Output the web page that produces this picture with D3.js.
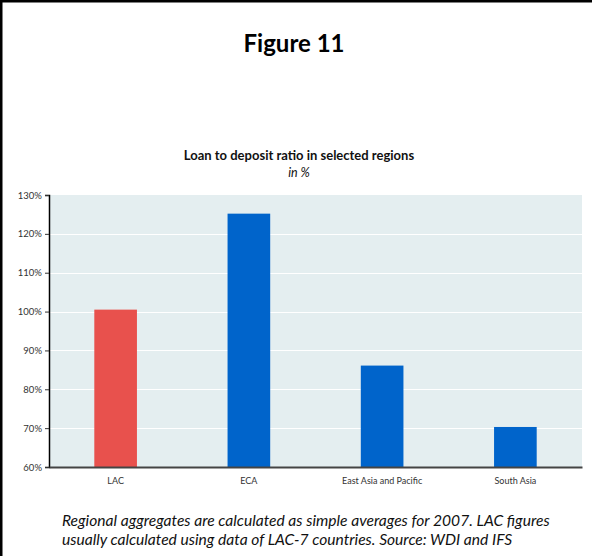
<!DOCTYPE html>
<html>
<head>
<meta charset="utf-8">
<script src="https://cdn.jsdelivr.net/npm/d3@7"></script>
<style>
  html, body { margin: 0; padding: 0; background: #fff; }
  svg { display: block; }
</style>
</head>
<body>
<svg id="chart" width="592" height="556"></svg>
<script>
// Loan to deposit ratio by region, 2007 (percent)
const categories = ["LAC", "ECA", "East Asia and Pacific", "South Asia"];
const ratios = [100.5, 125.2, 86.1, 70.3];
const barColors = ["#e8514d", "#0064cb", "#0064cb", "#0064cb"];
const yTicks = [60, 70, 80, 90, 100, 110, 120, 130];
const figureTitle = "Figure 11";
const chartTitle = "Loan to deposit ratio in selected regions";
const chartSubtitle = "in %";
const noteLines = [
  "Regional aggregates are calculated as simple averages for 2007. LAC figures",
  "usually calculated using data of LAC-7 countries. Source: WDI and IFS"
];

const svg = d3.select("#chart");
const W = 592, H = 556;
const plot = { left: 49, right: 582, top: 195, bottom: 467 };
const font = "Lato, 'Open Sans', 'Liberation Sans', sans-serif";

// frame lines (top and left edges)
svg.append("line").attr("x1", 0).attr("x2", W).attr("y1", 1).attr("y2", 1)
  .attr("stroke", "#000").attr("stroke-width", 3);
svg.append("line").attr("x1", 1).attr("x2", 1).attr("y1", 0).attr("y2", H)
  .attr("stroke", "#000").attr("stroke-width", 3);

svg.append("text").attr("x", 294).attr("y", 52).attr("text-anchor", "middle")
  .style("font-family", font).style("font-weight", "bold").style("font-size", "24px")
  .attr("fill", "#000").text(figureTitle);

svg.append("text").attr("x", 299).attr("y", 160).attr("text-anchor", "middle")
  .style("font-family", font).style("font-weight", "bold").style("font-size", "13px")
  .attr("fill", "#111").text(chartTitle);
svg.append("text").attr("x", 299).attr("y", 177).attr("text-anchor", "middle")
  .style("font-family", font).style("font-style", "italic").style("font-size", "12.5px")
  .attr("fill", "#111").text(chartSubtitle);

const x = d3.scaleBand().domain(categories)
  .range([plot.left, plot.right]).paddingInner(0.68).paddingOuter(0.34);
const y = d3.scaleLinear().domain([60, 130]).range([plot.bottom, plot.top]);

// plot background
svg.append("rect").attr("x", plot.left).attr("y", plot.top)
  .attr("width", plot.right - plot.left).attr("height", plot.bottom - plot.top)
  .attr("fill", "#e4eef0");

// gridlines
svg.append("g").selectAll("line").data(yTicks.filter(t => t > 60 && t < 130)).join("line")
  .attr("x1", plot.left).attr("x2", plot.right)
  .attr("y1", d => Math.round(y(d)) + 0.5).attr("y2", d => Math.round(y(d)) + 0.5)
  .attr("stroke", "#fff").attr("stroke-width", 1);

// bars
svg.append("g").selectAll("rect").data(categories).join("rect")
  .attr("x", d => x(d)).attr("width", x.bandwidth())
  .attr("y", (d, i) => y(ratios[i]))
  .attr("height", (d, i) => y(60) - y(ratios[i]))
  .attr("fill", (d, i) => barColors[i]);

// y axis
const yAxis = d3.axisLeft(y).tickValues(yTicks).tickFormat(d => d + "%")
  .tickSize(4).tickPadding(3);
const ya = svg.append("g").attr("transform", `translate(${plot.left},0)`).call(yAxis);
ya.select(".domain").attr("stroke", "#000").attr("stroke-width", 1.5);
ya.selectAll(".tick line").attr("stroke", "#333");
ya.selectAll("text").style("font-family", font).style("font-size", "9.5px").attr("fill", "#333");

// x axis
const xAxis = d3.axisBottom(x).tickSize(0).tickPadding(11);
const xa = svg.append("g").attr("transform", `translate(0,${plot.bottom})`).call(xAxis);
xa.select(".domain").attr("stroke", "#444").attr("stroke-width", 2);
xa.selectAll("text").style("font-family", font).style("font-size", "9px").attr("fill", "#333");

// footnote
svg.append("g").selectAll("text").data(noteLines).join("text")
  .attr("x", 62).attr("y", (d, i) => 526 + i * 19)
  .style("font-family", font).style("font-style", "italic").style("font-size", "15.6px")
  .attr("fill", "#111").text(d => d);
</script>
</body>
</html>
